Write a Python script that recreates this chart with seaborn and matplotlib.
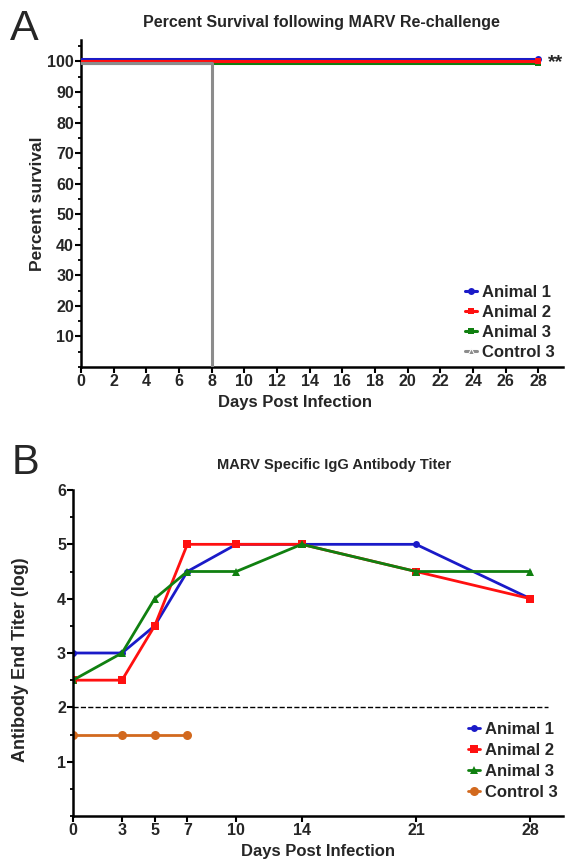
import numpy as np
import pandas as pd
import seaborn as sns
import matplotlib.pyplot as plt
import matplotlib.transforms as mtransforms
from matplotlib.ticker import MultipleLocator

sns.set_style('ticks')
plt.rcParams['font.family'] = ['Liberation Sans', 'DejaVu Sans']
plt.rcParams['font.weight'] = 'bold'

# panel A: survival
surv_names = ['Animal 1', 'Animal 2', 'Animal 3', 'Control 3']
surv_days = [[0, 28], [0, 28], [0, 28], [0, 8]]
surv_pct = [[100, 100], [100, 100], [100, 100], [100, 0]]

# panel B: antibody titer
titer_names = ['Animal 1', 'Animal 2', 'Animal 3', 'Control 3']
titer_days = [[0, 3, 5, 7, 10, 14, 21, 28],
              [0, 3, 5, 7, 10, 14, 21, 28],
              [0, 3, 5, 7, 10, 14, 21, 28],
              [0, 3, 5, 7]]
titer_vals = [[3, 3, 3.5, 4.5, 5, 5, 5, 4],
              [2.5, 2.5, 3.5, 5, 5, 5, 4.5, 4],
              [2.5, 3, 4, 4.5, 4.5, 5, 4.5, 4.5],
              [1.5, 1.5, 1.5, 1.5]]
cutoff = 2
b_ticks = [0, 3, 5, 7, 10, 14, 21, 28]

W, H = 568, 865
fig = plt.figure(figsize=(5.68, 8.65), dpi=100)
axA = fig.add_axes([81 / W, 1 - 367 / H, 482 / W, 327 / H])
axB = fig.add_axes([73 / W, 1 - 816 / H, 490 / W, 326 / H])

colsA = ['#1a1ac8', '#ff1010', '#108010', '#8c8c8c']
mkA = ['o', 's', 's', '^']
offs = [1.8, 0, -1.3, -1.3]  # visual stacking of the overlapping 100% lines (points)
zs = [3, 3, 2, 4]
for name, d, v, c, m, o, z in zip(surv_names, surv_days, surv_pct, colsA, mkA, offs, zs):
    tr = axA.transData + mtransforms.ScaledTranslation(0, o / 72, fig.dpi_scale_trans)
    if name.startswith('Control'):
        sns.lineplot(x=d, y=v, ax=axA, color=c, lw=2.2, drawstyle='steps-post', zorder=z,
                     transform=tr, label=name, marker=m, markersize=5, markevery=[])
    else:
        sns.lineplot(x=d, y=v, ax=axA, color=c, lw=2.2, marker=m, markersize=5, zorder=z,
                     markevery=[1], markeredgewidth=0, transform=tr, label=name)
axA.text(28.55, 99.5, '**', fontsize=14, va='center', ha='left')
axA.set_xlim(0, 29.5)
axA.set_ylim(0, 107)
axA.set_xticks(range(0, 29, 2))
axA.set_yticks(range(10, 101, 10))
axA.yaxis.set_minor_locator(MultipleLocator(5))
fig.text(321 / W, 1 - 22 / H, 'Percent Survival following MARV Re-challenge',
         fontsize=11.5, fontweight='bold', ha='center', va='center')
axA.set_xlabel('Days Post Infection', fontsize=12, fontweight='bold')
axA.xaxis.set_label_coords(0.444, -0.085)
axA.set_ylabel('Percent survival', fontsize=12.5, fontweight='bold')
axA.yaxis.set_label_coords(-0.075, 0.5)
axA.legend(loc='upper left', bbox_to_anchor=(465 / W, 1 - 285 / H),
           bbox_transform=fig.transFigure, frameon=False, fontsize=12,
           handlelength=0.7, handletextpad=0.3, labelspacing=0.3, borderpad=0, borderaxespad=0)
fig.text(10 / W, 1 - 29 / H, 'A', fontsize=31, fontweight='normal', va='center', ha='left')

colsB = ['#1a1ac8', '#ff1010', '#108010', '#d2691e']
mkB = ['o', 's', '^', 'o']
msB = [5, 5.5, 5.5, 6.5]
for name, d, v, c, m, ms in zip(titer_names, titer_days, titer_vals, colsB, mkB, msB):
    sns.lineplot(x=d, y=v, ax=axB, color=c, lw=2, marker=m, markersize=ms,
                 markeredgewidth=0, label=name)
axB.plot([0, 29.1], [cutoff, cutoff], ls='--', color='black', lw=1)
axB.set_xlim(0, 30)
axB.set_ylim(0, 6)
axB.set_xticks(b_ticks)
axB.set_yticks(range(1, 7))
axB.yaxis.set_minor_locator(MultipleLocator(0.5))
fig.text(334 / W, 1 - 465 / H, 'MARV Specific IgG Antibody Titer',
         fontsize=10.5, fontweight='bold', ha='center', va='center')
axB.set_xlabel('Days Post Infection', fontsize=12, fontweight='bold')
axB.xaxis.set_label_coords(0.5, -0.085)
axB.set_ylabel('Antibody End Titer (log)', fontsize=13, fontweight='bold')
axB.yaxis.set_label_coords(-0.09, 0.48)
axB.legend(loc='upper left', bbox_to_anchor=(468 / W, 1 - 722 / H),
           bbox_transform=fig.transFigure, frameon=False, fontsize=12,
           handlelength=0.7, handletextpad=0.3, labelspacing=0.36, borderpad=0, borderaxespad=0)
fig.text(12 / W, 1 - 463 / H, 'B', fontsize=30, fontweight='normal', va='center', ha='left')

for ax in (axA, axB):
    sns.despine(ax=ax)
    for s in ('left', 'bottom'):
        ax.spines[s].set_linewidth(1.8)
        ax.spines[s].set_color('black')
    ax.tick_params(axis='both', which='major', labelsize=11.5, width=1.5, length=4,
                   direction='out', pad=1, color='black')
    ax.tick_params(axis='y', which='minor', width=1.3, length=2.5, color='black')
    for lab in ax.get_xticklabels() + ax.get_yticklabels():
        lab.set_fontweight('bold')

fig.savefig('out.png', dpi=100)
